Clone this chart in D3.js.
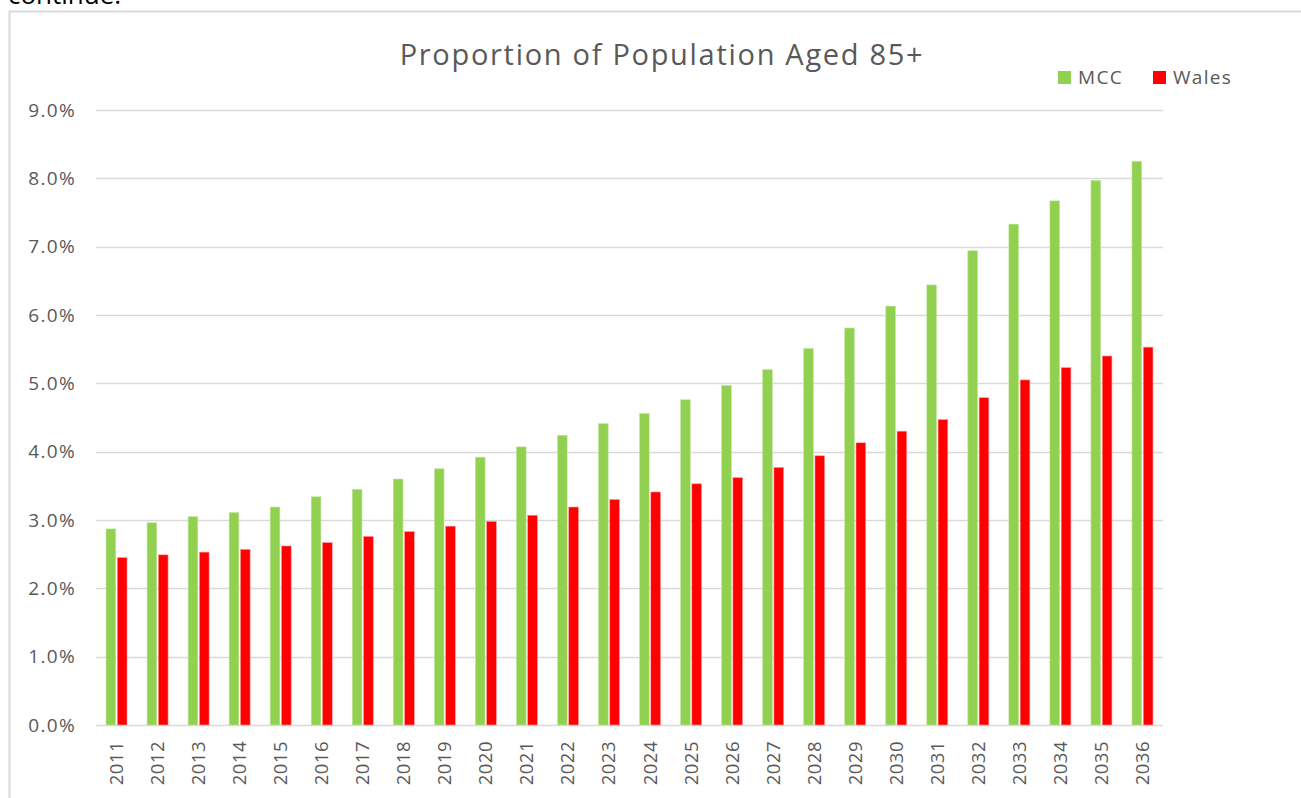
<!DOCTYPE html>
<html>
<head>
<meta charset="utf-8">
<script src="https://cdn.jsdelivr.net/npm/d3@7"></script>
<style>
  body { margin: 0; background: #fff; }
  svg { display: block; font-family: "Open Sans", "Noto Sans", sans-serif; }
</style>
</head>
<body>
<svg id="chart" width="1301" height="798"></svg>
<script>
// data
var years = ["2011","2012","2013","2014","2015","2016","2017","2018","2019","2020","2021","2022","2023",
             "2024","2025","2026","2027","2028","2029","2030","2031","2032","2033","2034","2035","2036"];
var mcc = [2.87, 2.96, 3.05, 3.11, 3.19, 3.34, 3.45, 3.60, 3.75, 3.92, 4.07, 4.24, 4.41,
           4.56, 4.76, 4.97, 5.20, 5.51, 5.81, 6.13, 6.44, 6.94, 7.33, 7.67, 7.97, 8.25];
var wales = [2.45, 2.49, 2.53, 2.57, 2.62, 2.67, 2.76, 2.83, 2.91, 2.98, 3.07, 3.19, 3.30,
             3.41, 3.53, 3.62, 3.77, 3.94, 4.13, 4.30, 4.47, 4.79, 5.05, 5.23, 5.40, 5.53];
var seriesNames = ["MCC", "Wales"];
var yTicks = [0, 1, 2, 3, 4, 5, 6, 7, 8, 9];

var colors = { MCC: "#92d050", Wales: "#ff0000" };
var textColor = "#595959";

var svg = d3.select("#chart");

// text cut off above the chart frame (as in the screenshot)
svg.append("text")
    .attr("x", 8)
    .attr("y", 4)
    .style("font-size", "26px")
    .style("fill", "#000")
    .text("continue.");

// chart frame
svg.append("rect")
    .attr("x", 9.5)
    .attr("y", 11.5)
    .attr("width", 1320)
    .attr("height", 820)
    .attr("fill", "#fff")
    .attr("stroke", "#d9d9d9")
    .attr("stroke-width", 2);

var rows = years.map(function (y, i) {
    return { year: y, MCC: mcc[i], Wales: wales[i] };
});

var x0 = d3.scaleBand().domain(years).range([96, 1163]);
var groupW = 21;
var x1 = d3.scaleBand().domain(seriesNames)
    .range([(x0.bandwidth() - groupW) / 2, (x0.bandwidth() + groupW) / 2])
    .paddingInner(0.14);
var y = d3.scaleLinear().domain([0, 9]).range([725, 110]);

// gridlines
svg.append("g")
    .selectAll("line")
    .data(yTicks)
    .enter()
    .append("line")
    .attr("x1", 96)
    .attr("x2", 1163)
    .attr("y1", function (d) { return Math.round(y(d)) + 0.5; })
    .attr("y2", function (d) { return Math.round(y(d)) + 0.5; })
    .attr("stroke", "#d9d9d9")
    .attr("stroke-width", 1.3);

// y labels
var yAxis = d3.axisLeft(y)
    .tickValues(yTicks)
    .tickSize(0)
    .tickPadding(0)
    .tickFormat(function (d) { return d.toFixed(1) + "%"; });
var gy = svg.append("g").attr("transform", "translate(76,0)").call(yAxis);
gy.select(".domain").remove();
gy.selectAll("text")
    .style("font-size", "19px")
    .style("letter-spacing", "1.3px")
    .style("font-family", "'Open Sans', 'Noto Sans', sans-serif")
    .attr("fill", textColor);

// bars
var groups = svg.append("g")
    .selectAll("g")
    .data(rows)
    .enter()
    .append("g")
    .attr("transform", function (d) { return "translate(" + x0(d.year) + ",0)"; });

groups.selectAll("rect")
    .data(function (d) {
        return seriesNames.map(function (k) { return { key: k, value: d[k] }; });
    })
    .enter()
    .append("rect")
    .attr("x", function (d) { return x1(d.key); })
    .attr("width", x1.bandwidth())
    .attr("y", function (d) { return y(d.value); })
    .attr("height", function (d) { return y(0) - y(d.value); })
    .attr("fill", function (d) { return colors[d.key]; })
    .attr("stroke", function (d) { return d.key === "MCC" ? "#c4e6a4" : "#ff9a9a"; })
    .attr("stroke-width", 0.6);

// x labels (rotated)
var xAxis = d3.axisBottom(x0).tickSize(0).tickPadding(0);
var gx = svg.append("g").attr("transform", "translate(0,725)").call(xAxis);
gx.select(".domain").remove();
gx.selectAll("text")
    .style("font-size", "18.5px")
    .style("letter-spacing", "0.5px")
    .style("font-family", "'Open Sans', 'Noto Sans', sans-serif")
    .attr("fill", textColor)
    .attr("transform", "rotate(-90)")
    .attr("x", -16)
    .attr("y", 0)
    .attr("dy", "0.35em")
    .attr("text-anchor", "end");

// title
svg.append("text")
    .attr("x", 662)
    .attr("y", 65)
    .attr("text-anchor", "middle")
    .style("font-size", "29px")
    .style("letter-spacing", "1.7px")
    .style("fill", textColor)
    .text("Proportion of Population Aged 85+");

// legend
var legendX = [1058, 1153];
var legend = svg.append("g")
    .selectAll("g")
    .data(seriesNames)
    .enter()
    .append("g")
    .attr("transform", function (d, i) { return "translate(" + legendX[i] + ",71)"; });
legend.append("rect")
    .attr("width", 13)
    .attr("height", 13)
    .attr("fill", function (d) { return colors[d]; });
legend.append("text")
    .attr("x", 20)
    .attr("y", 13)
    .style("font-size", "19px")
    .style("letter-spacing", "1.3px")
    .style("fill", textColor)
    .text(function (d) { return d; });
</script>
</body>
</html>
